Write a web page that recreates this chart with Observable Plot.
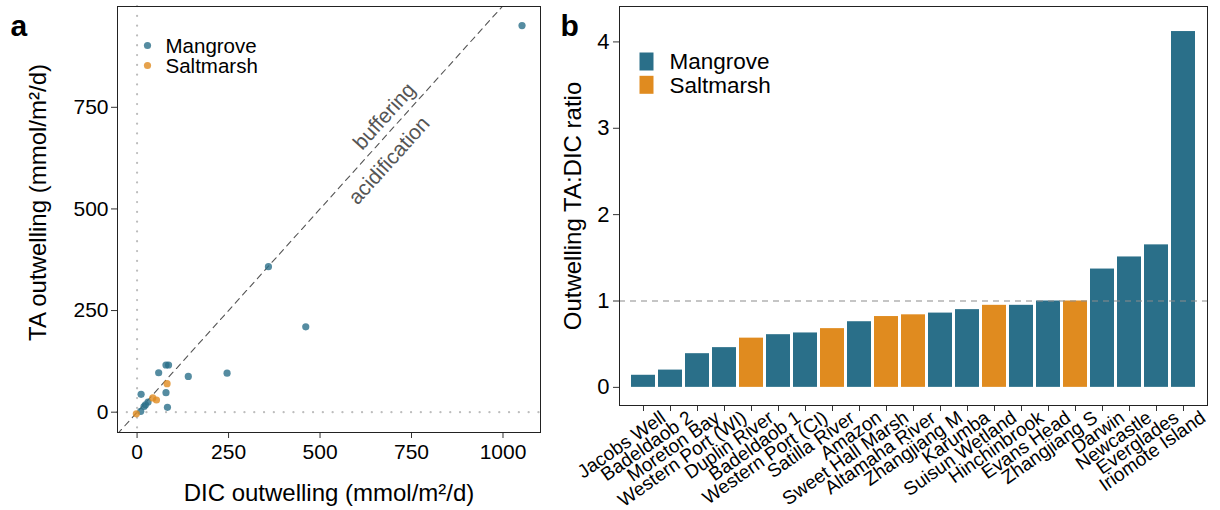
<!DOCTYPE html>
<html>
<head>
<meta charset="utf-8">
<script src="https://cdn.jsdelivr.net/npm/d3@7"></script>
<script src="https://cdn.jsdelivr.net/npm/@observablehq/plot@0.6"></script>
<style>
html, body { margin: 0; padding: 0; background: #fff; }
#fig { position: relative; width: 1220px; height: 510px; overflow: hidden; background: #fff; }
#fig > svg { position: absolute; top: 0; }
</style>
</head>
<body>
<div id="fig"></div>
<script>
// ---------- shared ----------
const habitats = ["Mangrove", "Saltmarsh"];
const habitatColors = ["#2a6f89", "#e08b1f"];

// ---------- panel a: outwelling scatter ----------
const mangroveDIC = [1052, 359, 461, 246, 140, 59, 79, 86, 79, 83, 11, 30, 23, 19, 10];
const mangroveTA  = [951, 358, 210, 96, 88, 97, 116, 116, 48, 12, 44, 25, 18, 14, 2];
const saltmarshDIC = [82, 43, 53, -2];
const saltmarshTA  = [70, 35, 30, -4];
const xTicksA = [0, 250, 500, 750, 1000];
const yTicksA = [0, 250, 500, 750];
const regionLabels = ["buffering", "acidification"];
const regionLabelDIC = [676, 689];
const regionLabelTA = [728, 619];

// ---------- panel b: TA:DIC ratio ----------
const sites = ["Jacobs Well", "Badeldaob 2", "Moreton Bay", "Western Port (WI)", "Duplin River",
  "Badeldaob 1", "Western Port (CI)", "Satilla River", "Amazon", "Sweet Hall Marsh",
  "Altamaha River", "Zhangjiang M", "Karumba", "Suisun Wetland", "Hinchinbrook",
  "Evans Head", "Zhangjiang S", "Darwin", "Newcastle", "Everglades", "Iriomote Island"];
const siteHabitat = ["Mangrove", "Mangrove", "Mangrove", "Mangrove", "Saltmarsh",
  "Mangrove", "Mangrove", "Saltmarsh", "Mangrove", "Saltmarsh",
  "Saltmarsh", "Mangrove", "Mangrove", "Saltmarsh", "Mangrove",
  "Mangrove", "Saltmarsh", "Mangrove", "Mangrove", "Mangrove", "Mangrove"];
const siteRatio = [0.14, 0.20, 0.39, 0.46, 0.57, 0.61, 0.63, 0.68, 0.76, 0.82,
  0.84, 0.86, 0.90, 0.95, 0.95, 1.00, 1.00, 1.37, 1.51, 1.65, 4.12];
const yTicksB = [0, 1, 2, 3, 4];
const ratioReference = [1];

// ---------- build ----------
const font = "'Liberation Sans', Arial, Helvetica, sans-serif";
const baseStyle = {fontFamily: font, fontSize: "21px", color: "#000", background: "transparent", overflow: "visible"};
const plainNumber = d => String(d);

const scatter = [
  ...mangroveDIC.map((d, i) => ({dic: d, ta: mangroveTA[i], habitat: "Mangrove"})),
  ...saltmarshDIC.map((d, i) => ({dic: d, ta: saltmarshTA[i], habitat: "Saltmarsh"}))
];
const xDomainA = [-53.5, 1102.5];
const yDomainA = [-50, 998];
const identityLine = xDomainA.map(v => ({dic: v, ta: v}));
const annotations = regionLabels.map((t, i) => ({text: t, dic: regionLabelDIC[i], ta: regionLabelTA[i]}));

const plotA = Plot.plot({
  width: 555, height: 510,
  marginLeft: 117, marginRight: 15, marginTop: 6, marginBottom: 78,
  style: baseStyle,
  x: {domain: xDomainA},
  y: {domain: yDomainA},
  color: {domain: habitats, range: habitatColors},
  marks: [
    Plot.ruleX([0], {stroke: "#bdbdbd", strokeWidth: 2.2, strokeDasharray: "0.1,9.7", strokeLinecap: "round"}),
    Plot.ruleY([0], {stroke: "#bdbdbd", strokeWidth: 2.2, strokeDasharray: "0.1,9.7", strokeLinecap: "round"}),
    Plot.line(identityLine, {x: "dic", y: "ta", stroke: "#555", strokeWidth: 1.1, strokeDasharray: "6,5", clip: true}),
    Plot.text(annotations, {x: "dic", y: "ta", text: "text", rotate: -48, fill: "#555", fontSize: 21}),
    Plot.dot(scatter, {x: "dic", y: "ta", fill: "habitat", fillOpacity: 0.8, r: 3.6}),
    Plot.axisX({ticks: xTicksA, tickFormat: plainNumber, tickSize: 6, tickPadding: 6, fontSize: 21, label: null, stroke: "#333"}),
    Plot.axisY({ticks: yTicksA, tickFormat: plainNumber, tickSize: 6, tickPadding: 3, fontSize: 21, label: null, stroke: "#333"}),
    Plot.frame({stroke: "#222"}),
    Plot.text(["DIC outwelling (mmol/m²/d)"], {text: d => d, frameAnchor: "bottom", textAnchor: "middle", lineAnchor: "bottom", dy: 68, fontSize: 24}),
    Plot.text(["TA outwelling (mmol/m²/d)"], {text: d => d, frameAnchor: "left", rotate: -90, textAnchor: "middle", lineAnchor: "bottom", dx: -72, dy: -17, fontSize: 24}),
    ...habitats.map((h, i) => Plot.dot([h], {frameAnchor: "top-left", dx: 30, dy: 39 + 20 * i, fill: d => d, fillOpacity: 0.8, r: 3.6})),
    ...habitats.map((h, i) => Plot.text([h], {text: d => d, frameAnchor: "top-left", dx: 48, dy: 39.5 + 20 * i, textAnchor: "start", lineAnchor: "middle", fontSize: 20.5})),
    Plot.text(["a"], {text: d => d, frameAnchor: "top-left", dx: -107, dy: 29, textAnchor: "start", lineAnchor: "bottom", fontWeight: "bold", fontSize: 30})
  ]
});

const bars = sites.map((s, i) => ({site: s, habitat: siteHabitat[i], ratio: siteRatio[i]}));
const swatch = {draw(context) { context.rect(-7, -9, 14, 18); }};

const plotB = Plot.plot({
  width: 665, height: 510,
  marginLeft: 64, marginRight: 13, marginTop: 6, marginBottom: 105,
  style: baseStyle,
  x: {domain: sites, type: "band", paddingInner: 0.1, paddingOuter: 0.15},
  y: {domain: [-0.21, 4.41]},
  color: {domain: habitats, range: habitatColors},
  marks: [
    Plot.barY(bars, {x: "site", y: "ratio", fill: "habitat"}),
    Plot.ruleY(ratioReference, {stroke: "#8c8c8c", strokeWidth: 1.1, strokeDasharray: "6,5"}),
    Plot.axisX({tickSize: 6, tickFormat: () => "", label: null, stroke: "#333"}),
    Plot.text(sites, {x: d => d, text: d => d, frameAnchor: "bottom", rotate: -35, textAnchor: "end", lineAnchor: "middle", dx: 20, dy: 10, fontSize: 19}),
    Plot.axisY({ticks: yTicksB, tickFormat: plainNumber, tickSize: 6, tickPadding: 4, fontSize: 22, label: null, stroke: "#333"}),
    Plot.frame({stroke: "#222"}),
    Plot.text(["Outwelling TA:DIC ratio"], {text: d => d, frameAnchor: "left", rotate: -90, textAnchor: "middle", lineAnchor: "bottom", dx: -39, fontSize: 24}),
    ...habitats.map((h, i) => Plot.dot([h], {frameAnchor: "top-left", dx: 27, dy: 55 + 23.3 * i, fill: d => d, symbol: swatch, r: 5})),
    ...habitats.map((h, i) => Plot.text([h], {text: d => d, frameAnchor: "top-left", dx: 50, dy: 55.5 + 23.3 * i, textAnchor: "start", lineAnchor: "middle", fontSize: 22.5})),
    Plot.text(["b"], {text: d => d, frameAnchor: "top-left", dx: -59, dy: 29, textAnchor: "start", lineAnchor: "bottom", fontWeight: "bold", fontSize: 30})
  ]
});

const fig = document.getElementById("fig");
plotA.style.left = "0px";
plotB.style.left = "555px";
fig.appendChild(plotA);
fig.appendChild(plotB);
</script>
</body>
</html>
